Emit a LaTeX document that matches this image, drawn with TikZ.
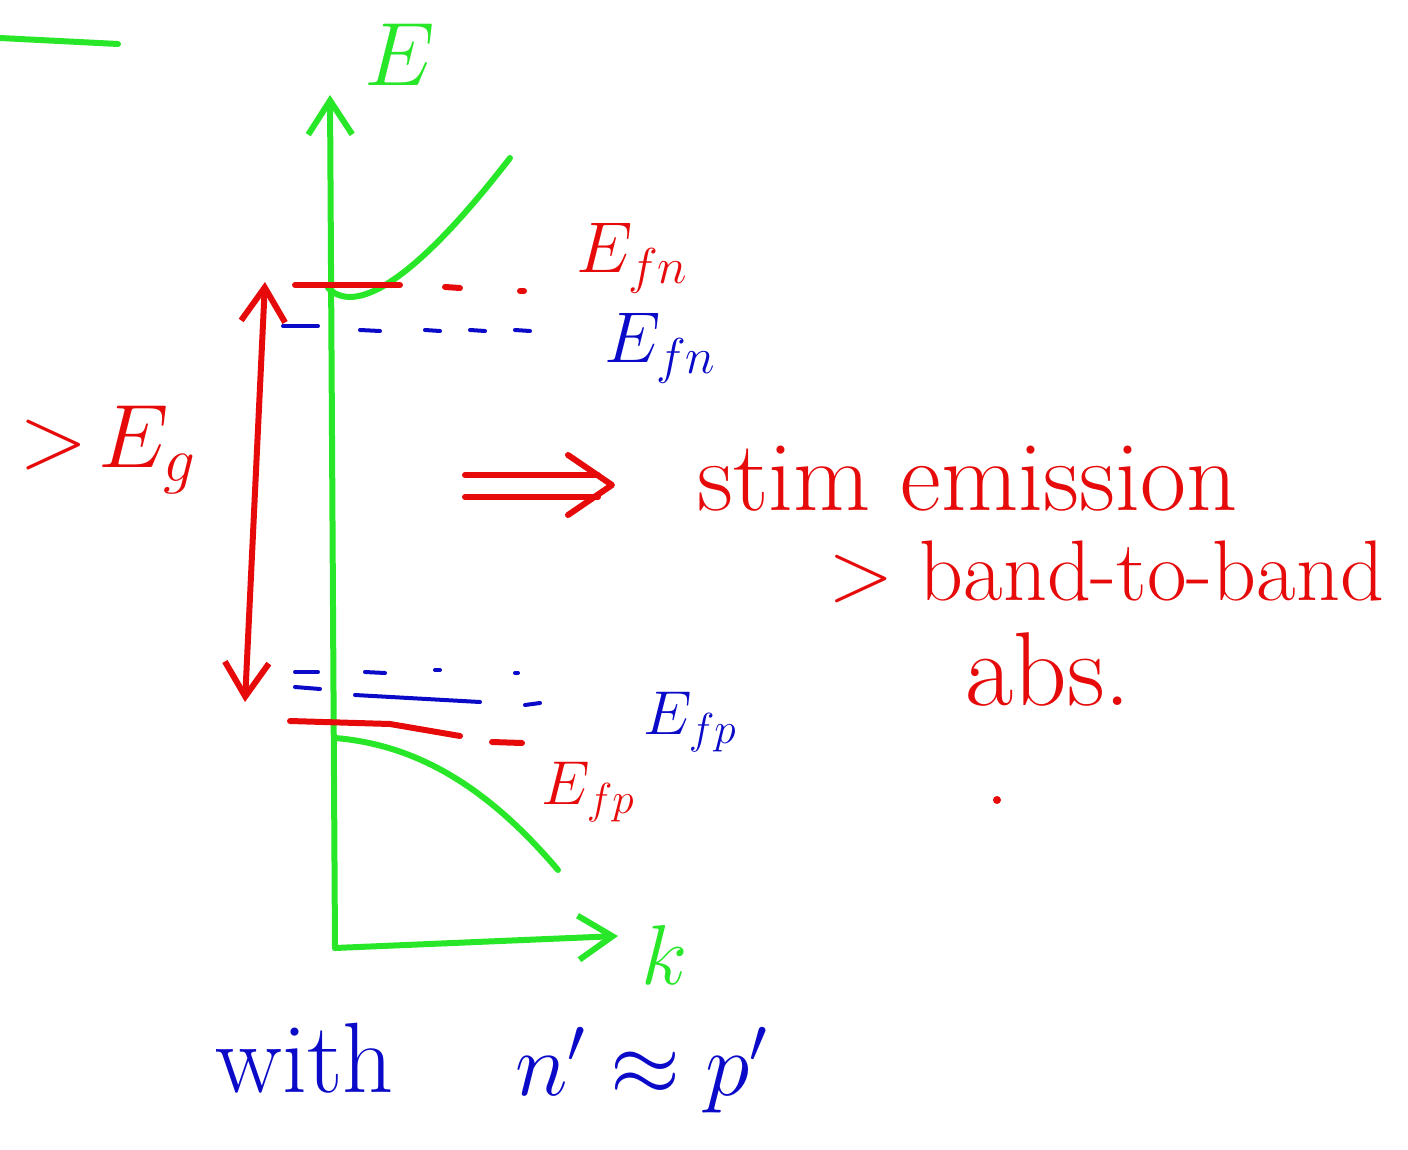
\RequirePackage{fix-cm}
\documentclass[tikz,border=0pt]{standalone}
\usetikzlibrary{arrows.meta}
\definecolor{pg}{RGB}{40,230,40}
\definecolor{pr}{RGB}{230,10,10}
\definecolor{pb}{RGB}{10,10,200}
\tikzset{
  pen/.style={line width=6pt, line cap=round, line join=round},
  barb/.style={-{Straight Barb[length=34pt,width=44pt,line width=6pt]}},
  fs/.style={font=\fontsize{#1}{#1}\selectfont, inner sep=0pt},
}
\begin{document}
\begin{tikzpicture}[x=1pt,y=-1pt]
\useasboundingbox (0,0) rectangle (1408,1150);
% coordinates
\coordinate (o) at (335,948);
\coordinate (etop) at (330,95);
\coordinate (kend) at (618,936);
\coordinate (nT) at (265,282);
\coordinate (nB) at (245,702);
% stray green stroke
\draw[pg,pen] (0,38) -- (118,44);
% axes
\draw[pg,pen,barb] (o) -- (etop);
\draw[pg,pen,barb] (o) -- (kend);
\node[pg,fs=90] (lE) at (400,55) {$E$};
\node[pg,fs=85] (lk) at (665,955) {$k$};
% bands
\draw[pg,pen] (328,288) .. controls (350,310) and (400,300) .. (510,158);
\draw[pg,pen] (335,738) .. controls (420,745) and (490,790) .. (558,870);
% red Efn
\draw[pr,pen] (295,285) -- (400,285);
\draw[pr,pen] (445,287) -- (460,288);
\draw[pr,pen] (520,291) -- (524,291);
\node[pr,fs=72] (lEfnR) at (632,258) {$E_{fn}$};
% blue Efn
\draw[pb,line width=4pt,line cap=round] (283,326) -- (318,326);
\foreach \a/\b in {360/380, 425/440, 470/485, 515/530}{\draw[pb,line width=4pt,line cap=round] (\a,330) -- (\b,331);}
\node[pb,fs=72] (lEfnB) at (660,348) {$E_{fn}$};
% Eg double arrow
\draw[pr,pen,{Straight Barb[length=34pt,width=44pt,line width=6pt]}-{Straight Barb[length=34pt,width=44pt,line width=6pt]}] (nT) -- (nB);
\node[pr,fs=90] (lEg) at (108,450) {$>\!E_g$};
% blue Efp
\draw[pb,line width=4pt,line cap=round] (295,672) -- (318,672);
\draw[pb,line width=4pt,line cap=round] (295,687) -- (320,689);
\draw[pb,line width=4pt,line cap=round] (365,672) -- (385,673);
\draw[pb,line width=4pt,line cap=round] (435,670) -- (440,670);
\draw[pb,line width=4pt,line cap=round] (355,695) -- (480,702);
\draw[pb,line width=4pt,line cap=round] (515,673) -- (518,673);
\draw[pb,line width=4pt,line cap=round] (525,705) -- (540,703);
\node[pb,fs=62] (lEfpB) at (690,722) {$E_{fp}$};
% red Efp
\draw[pr,pen] (290,721) -- (390,724) -- (460,736);
\draw[pr,pen] (492,742) -- (522,743);
\node[pr,fs=62] (lEfpR) at (588,792) {$E_{fp}$};
% implies arrow
\coordinate (iE) at (612,485);
\draw[pr,pen] (465,475) -- (598,475);
\draw[pr,pen] (465,497) -- (598,497);
\draw[pr,pen] (568,455) -- (iE) -- (568,515);
% texts
\node[pr,fs=100,anchor=base west] (t1) at (697,510) {stim emission};
\node[pr,fs=86,anchor=base west] (t2) at (828,600) {$>$ band-to-band};
\node[pr,fs=105,anchor=base west] (t3) at (965,705) {abs.};
\fill[pr] (997,800) circle (4pt);
\node[pb,fs=100,anchor=base west] (t4) at (215,1092) {with};
\node[pb,fs=90,anchor=base west] (t5) at (515,1095) {$n'\approx p'$};
\end{tikzpicture}
\end{document}
